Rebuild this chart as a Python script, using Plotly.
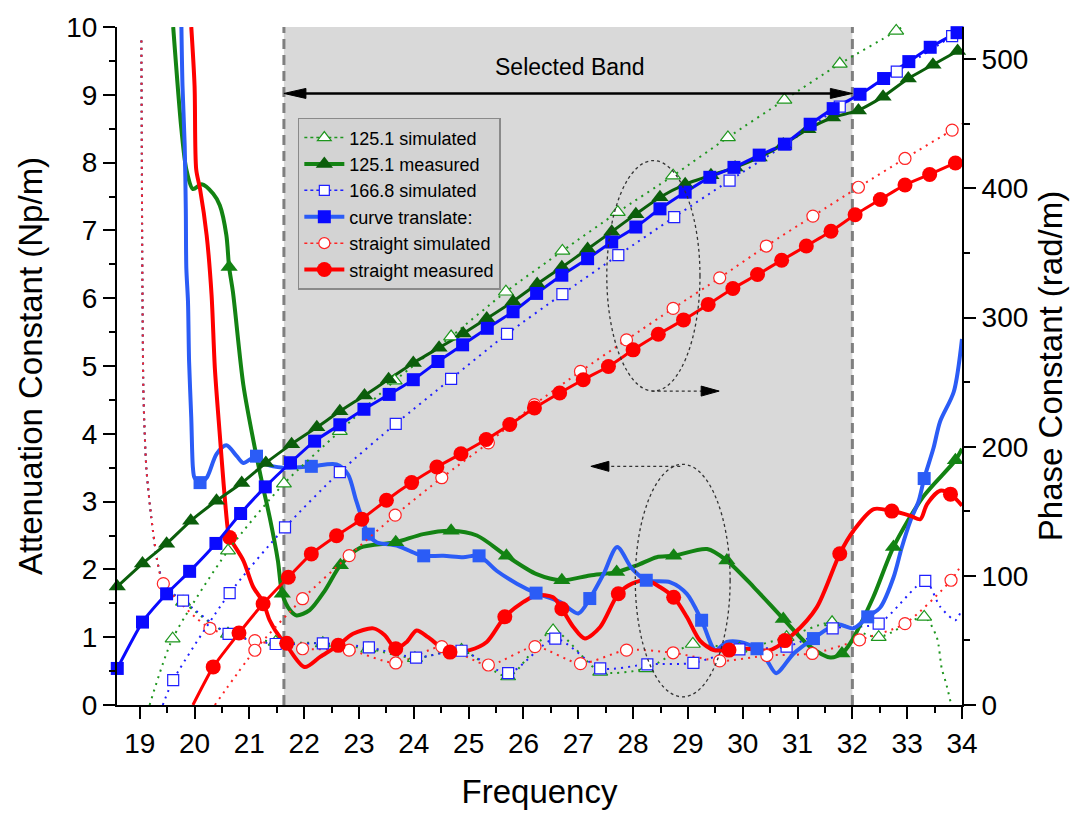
import plotly.graph_objects as go

FONT = "Liberation Sans, Arial, sans-serif"

# ---------------- colours ----------------
GREEN = "#138313"
GREEN_DARK = "#0b5e0b"
GREEN_SIM = "#1e961e"
BLUE = "#2b5cf6"
BLUE_DARK = "#0a0aff"
BLUE_SIM = "#1f1fff"
RED = "#ff0000"
RED_SIM = "#ff2424"

# ======================================================================
# Attenuation constant (Np/m), left axis
# ======================================================================

# 125.1 simulated
g_sim_att_head_f = [19.03, 19.05, 19.07, 19.12, 19.21, 19.33, 19.47]
g_sim_att_head = [9.8, 6.0, 4.5, 3.5, 2.77, 2.08, 1.72]
g_sim_att_f = [19.79, 20.61, 21.48, 22.34, 23.17, 24.02, 24.87, 25.72, 26.54,
               27.40, 28.24, 29.09, 29.94, 30.80, 31.63, 32.48, 33.31]
g_sim_att = [1.52, 1.05, 0.93, 0.91, 0.83, 0.69, 0.81, 0.42, 1.10,
             0.49, 0.54, 0.90, 0.83, 1.00, 1.22, 1.00, 1.30]
g_sim_att_tail_f = [33.54, 33.63, 33.71, 33.79]
g_sim_att_tail = [1.00, 0.54, 0.32, 0.05]

# 125.1 measured
g_meas_att_f = [19.61, 19.76, 19.85, 19.97, 20.13, 20.34, 20.46, 20.58, 20.63, 20.70,
                20.89, 21.10, 21.25, 21.37, 21.52, 21.60, 21.74, 21.86, 22.10, 22.38,
                22.66, 23.02, 23.67, 24.17, 24.68, 25.15, 25.69, 26.24, 26.70, 27.21,
                27.70, 28.07, 28.43, 28.74, 29.35, 29.71, 30.20, 30.74, 31.23, 31.60,
                31.81, 31.96, 32.38, 32.75, 33.29, 33.88, 34.0]
g_meas_att = [10.0, 8.49, 7.90, 7.61, 7.68, 7.54, 7.37, 6.93, 6.46, 6.09,
              4.72, 3.79, 3.21, 2.77, 2.13, 1.64, 1.40, 1.32, 1.40, 1.69,
              2.06, 2.32, 2.40, 2.52, 2.57, 2.50, 2.20, 1.93, 1.84, 1.91,
              1.96, 2.06, 2.18, 2.20, 2.30, 2.13, 1.74, 1.27, 0.86, 0.70,
              0.76, 0.91, 1.59, 2.33, 3.07, 3.61, 3.78]
g_meas_att_mf = [20.63, 21.60, 22.66, 23.67, 24.68, 25.69, 26.70, 27.70, 28.74, 29.71,
                 30.74, 31.81, 32.75, 33.88]
g_meas_att_m = [6.46, 1.64, 2.06, 2.40, 2.57, 2.20, 1.84, 1.96, 2.20, 2.13,
                1.27, 0.76, 2.33, 3.61]

# 166.8 simulated
b_sim_att_head_f = [19.03, 19.05, 19.07, 19.12, 19.21, 19.33, 19.47]
b_sim_att_head = [9.8, 6.0, 4.5, 3.5, 2.77, 2.08, 1.74]
b_sim_att_f = [19.79, 20.62, 21.48, 22.34, 23.18, 24.04, 24.87, 25.72, 26.58,
               27.40, 28.26, 29.10, 29.94, 30.80, 31.64, 32.48, 33.33]
b_sim_att = [1.54, 1.05, 0.90, 0.91, 0.85, 0.70, 0.80, 0.47, 0.98,
             0.54, 0.60, 0.62, 0.82, 0.86, 1.13, 1.20, 1.83]
b_sim_att_tail_f = [33.6, 33.88, 34.0]
b_sim_att_tail = [1.45, 1.25, 1.42]

# curve translate (measured)
b_meas_att_f = [19.76, 19.78, 19.82, 19.84, 19.85, 19.88, 19.90, 19.94, 19.97, 20.00,
                20.10, 20.22, 20.40, 20.58, 20.77, 20.89, 21.13, 21.31, 21.62, 22.13,
                22.59, 22.80, 22.95, 23.17, 23.32, 23.69, 24.05, 24.18, 24.54, 24.90,
                25.19, 25.51, 25.88, 26.23, 26.67, 27.00, 27.21, 27.46, 27.71, 27.98,
                28.24, 28.68, 28.98, 29.25, 29.50, 29.71, 29.95, 30.26, 30.44, 30.61,
                30.93, 31.29, 31.72, 32.02, 32.28, 32.51, 32.75, 32.90, 33.06, 33.21,
                33.31, 33.48, 33.60, 33.85, 34.0]
b_meas_att = [10.0, 9.13, 8.25, 7.32, 6.44, 5.95, 5.07, 4.23, 3.50, 3.35,
              3.28, 3.35, 3.70, 3.83, 3.67, 3.57, 3.67, 3.55, 3.50, 3.52,
              3.55, 3.40, 3.01, 2.52, 2.40, 2.35, 2.23, 2.20, 2.20, 2.18,
              2.20, 1.98, 1.79, 1.65, 1.52, 1.35, 1.57, 1.93, 2.33, 2.01,
              1.84, 1.81, 1.64, 1.25, 0.81, 0.93, 0.93, 0.83, 0.66, 0.47,
              0.76, 0.98, 1.19, 1.13, 1.30, 1.44, 1.88, 2.32, 2.72, 3.01,
              3.34, 3.79, 4.18, 4.62, 5.40]
b_meas_att_mf = [20.10, 21.13, 22.13, 23.17, 24.18, 25.19, 26.23, 27.21, 28.24, 29.25,
                 30.26, 31.29, 32.28, 33.31]
b_meas_att_m = [3.28, 3.67, 3.52, 2.52, 2.20, 2.20, 1.65, 1.57, 1.84, 1.25,
                0.83, 0.98, 1.30, 3.34]

# straight simulated
r_sim_att_head_f = [19.03, 19.05, 19.07, 19.12, 19.21, 19.33]
r_sim_att_head = [9.8, 6.0, 4.5, 3.5, 2.77, 2.08]
r_sim_att_f = [19.43, 20.28, 21.10, 21.97, 22.82, 23.67, 24.51, 25.36, 26.21,
               27.04, 27.88, 28.73, 29.58, 30.44, 31.27, 32.13, 32.96, 33.80]
r_sim_att = [1.79, 1.13, 0.95, 0.83, 0.81, 0.62, 0.86, 0.59, 0.86,
             0.61, 0.81, 0.77, 0.65, 0.73, 0.76, 0.96, 1.20, 1.84]
r_sim_att_tail_f = [34.0]
r_sim_att_tail = [2.08]

# straight measured
r_meas_att_f = [19.94, 20.00, 20.03, 20.10, 20.22, 20.31, 20.37, 20.46, 20.53, 20.61,
                20.64, 20.89, 21.07, 21.25, 21.37, 21.56, 21.68, 21.74, 22.01, 22.29,
                22.62, 22.89, 23.26, 23.47, 23.67, 23.87, 24.05, 24.26, 24.48, 24.66,
                25.02, 25.33, 25.66, 26.00, 26.24, 26.54, 26.70, 26.91, 27.12, 27.40,
                27.73, 27.98, 28.25, 28.49, 28.74, 28.98, 29.22, 29.47, 29.71, 30.07,
                30.50, 30.93, 31.35, 31.77, 32.02, 32.39, 32.72, 33.06, 33.24, 33.36,
                33.60, 33.79, 34.0]
r_meas_att = [10.0, 9.13, 7.90, 7.61, 6.93, 6.05, 4.97, 3.99, 3.26, 2.57,
              2.47, 2.13, 1.74, 1.52, 1.25, 1.00, 0.91, 0.81, 0.56, 0.71,
              0.88, 1.05, 1.13, 1.03, 0.83, 0.93, 1.10, 1.00, 0.86, 0.78,
              0.81, 0.93, 1.30, 1.52, 1.62, 1.59, 1.42, 1.15, 0.98, 1.15,
              1.64, 1.79, 1.84, 1.74, 1.59, 1.30, 0.95, 0.81, 0.81, 0.83,
              0.81, 1.05, 1.44, 2.23, 2.57, 2.89, 2.86, 2.79, 2.74, 2.96,
              3.16, 3.11, 2.94]
r_meas_att_mf = [20.64, 21.68, 22.62, 23.67, 24.66, 25.66, 26.70, 27.73, 28.74, 29.75,
                 30.77, 31.77, 32.72, 33.79]
r_meas_att_m = [2.47, 0.91, 0.88, 0.83, 0.78, 1.30, 1.42, 1.64, 1.59, 0.81,
                0.95, 2.23, 2.86, 3.11]

# ======================================================================
# Phase constant (rad/m), right axis
# ======================================================================

# 125.1 simulated
g_sim_ph_head_f = [19.18]
g_sim_ph_head = [0.0]
g_sim_ph_f = [19.60, 20.61, 21.63, 22.65, 23.65, 24.68, 25.68, 26.71, 27.72,
              28.73, 29.73, 30.76, 31.77, 32.80]
g_sim_ph = [51.4, 119.5, 171.4, 212.0, 251.1, 285.3, 320.0, 351.6, 381.6,
            409.9, 439.5, 468.5, 496.5, 522.0]
g_sim_ph_tail_f = [33.5]
g_sim_ph_tail = [543.0]

# 125.1 measured
g_meas_ph_f = [18.59, 19.05, 19.49, 19.93, 20.40, 20.86, 21.30, 21.77, 22.23, 22.65,
               23.10, 23.54, 23.99, 24.46, 24.90, 25.33, 25.81, 26.25, 26.70, 27.17,
               27.61, 28.05, 28.49, 28.95, 29.42, 29.86, 30.30, 30.74, 31.19, 31.64,
               32.11, 32.56, 33.02, 33.47, 33.92]
g_meas_ph = [91.7, 109.5, 124.9, 142.6, 158.1, 171.9, 187.4, 202.0, 215.0, 227.4,
             239.7, 252.2, 264.9, 276.6, 287.6, 299.2, 312.5, 326.0, 339.0, 353.1,
             366.5, 380.1, 393.2, 403.2, 410.2, 416.3, 424.0, 434.1, 445.9, 454.9,
             460.4, 471.0, 485.1, 495.8, 506.4]

# 166.8 simulated
b_sim_ph_head_f = [19.42]
b_sim_ph_head = [0.0]
b_sim_ph_f = [19.61, 20.64, 21.65, 22.65, 23.67, 24.68, 25.70, 26.71, 27.73,
              28.75, 29.76, 30.79, 31.77, 32.81, 33.82]
b_sim_ph = [19.3, 86.6, 137.5, 180.4, 217.7, 252.6, 287.3, 318.2, 348.3,
            377.8, 406.1, 434.3, 463.4, 490.4, 518.0]
b_sim_ph_tail_f = [34.0]
b_sim_ph_tail = [523.0]

# curve translate (measured)
b_meas_ph_f = [18.59, 19.05, 19.49, 19.91, 20.39, 20.84, 21.29, 21.75, 22.19, 22.65,
               23.09, 23.55, 23.99, 24.44, 24.89, 25.34, 25.81, 26.24, 26.70, 27.17,
               27.61, 28.05, 28.49, 28.95, 29.40, 29.84, 30.30, 30.76, 31.23, 31.65,
               32.14, 32.57, 33.03, 33.42, 33.91]
b_meas_ph = [28.3, 64.2, 86.1, 103.5, 125.1, 148.3, 168.9, 187.6, 204.3, 217.0,
             229.0, 240.5, 251.9, 266.0, 278.9, 291.7, 304.5, 318.7, 332.8, 345.6,
             358.5, 370.1, 384.2, 397.1, 408.6, 416.3, 425.8, 434.3, 449.7, 461.8,
             472.9, 485.1, 498.2, 509.3, 520.6]

# straight simulated
r_sim_ph_head_f = [20.37]
r_sim_ph_head = [0.0]
r_sim_ph_f = [21.10, 21.97, 22.82, 23.66, 24.51, 25.36, 26.20, 27.04, 27.88,
              28.73, 29.58, 30.43, 31.28, 32.11, 32.96, 33.82]
r_sim_ph = [42.4, 82.3, 115.7, 147.0, 176.0, 203.0, 232.6, 258.3, 282.7,
            307.1, 330.8, 355.4, 378.6, 400.9, 423.2, 445.2]
r_sim_ph_tail_f = [34.0]
r_sim_ph_tail = [450.0]

# straight measured
r_meas_ph_head_f = [19.97]
r_meas_ph_head = [0.0]
r_meas_ph_f = [20.34, 20.81, 21.25, 21.71, 22.13, 22.59, 23.05, 23.50, 23.96, 24.42,
               24.86, 25.32, 25.75, 26.20, 26.66, 27.09, 27.55, 28.00, 28.46, 28.92,
               29.37, 29.82, 30.27, 30.71, 31.16, 31.61, 32.05, 32.51, 32.96, 33.41,
               33.88]
r_meas_ph = [29.5, 55.7, 78.4, 98.9, 117.0, 131.1, 143.9, 158.6, 172.2, 184.3,
             194.5, 205.6, 217.2, 230.0, 241.6, 251.9, 262.1, 275.0, 287.1, 298.2,
             310.2, 322.5, 333.3, 344.4, 355.4, 366.8, 379.6, 391.4, 402.7, 410.8,
             419.7]

# legend labels
legend_names = ["125.1 simulated", "125.1 measured", "166.8 simulated",
                "curve translate:", "straight simulated", "straight measured"]

# selected band and annotation geometry (frequency / Np/m)
band_lo, band_hi = 21.63, 32.0
band_arrow_y = 9.02

fig = go.Figure()


def add_line(x, y, axis, color, width, dash="solid", smooth=0.8):
    fig.add_trace(go.Scatter(
        x=x, y=y, yaxis=axis, mode="lines", showlegend=False, hoverinfo="skip",
        line=dict(color=color, width=width, dash=dash, shape="spline", smoothing=smooth)))


def add_marks(x, y, axis, symbol, size, fill, edge, edge_w=1.2):
    fig.add_trace(go.Scatter(
        x=x, y=y, yaxis=axis, mode="markers", showlegend=False, hoverinfo="skip",
        cliponaxis=False,
        marker=dict(symbol=symbol, size=size, color=fill, line=dict(color=edge, width=edge_w))))


DOT = "2px,5px"

# ---- simulated curves (dotted, open markers) ----
for hf, hv, mf, mv, tf, tv, col in [
    (g_sim_att_head_f, g_sim_att_head, g_sim_att_f, g_sim_att, g_sim_att_tail_f, g_sim_att_tail, GREEN_SIM),
    (b_sim_att_head_f, b_sim_att_head, b_sim_att_f, b_sim_att, b_sim_att_tail_f, b_sim_att_tail, BLUE_SIM),
    (r_sim_att_head_f, r_sim_att_head, r_sim_att_f, r_sim_att, r_sim_att_tail_f, r_sim_att_tail, RED_SIM),
]:
    add_line(hf + mf + tf, hv + mv + tv, "y", col, 2, DOT, 0.7)

for hf, hv, mf, mv, tf, tv, col in [
    (g_sim_ph_head_f, g_sim_ph_head, g_sim_ph_f, g_sim_ph, g_sim_ph_tail_f, g_sim_ph_tail, GREEN_SIM),
    (b_sim_ph_head_f, b_sim_ph_head, b_sim_ph_f, b_sim_ph, b_sim_ph_tail_f, b_sim_ph_tail, BLUE_SIM),
    (r_sim_ph_head_f, r_sim_ph_head, r_sim_ph_f, r_sim_ph, r_sim_ph_tail_f, r_sim_ph_tail, RED_SIM),
]:
    add_line(hf + mf + tf, hv + mv + tv, "y2", col, 2, DOT, 0.7)

# ---- measured curves (solid) ----
add_line(g_meas_att_f, g_meas_att, "y", GREEN, 4)
add_line(b_meas_att_f, b_meas_att, "y", BLUE, 4)
add_line(r_meas_att_f, r_meas_att, "y", RED, 4)
add_line(g_meas_ph_f, g_meas_ph, "y2", GREEN_DARK, 3, smooth=0.5)
add_line(b_meas_ph_f, b_meas_ph, "y2", BLUE_DARK, 3, smooth=0.5)
add_line(r_meas_ph_head_f + r_meas_ph_f, r_meas_ph_head + r_meas_ph, "y2", RED, 3, smooth=0.5)

# ---- open markers of simulated curves ----
add_marks(g_sim_att_f, g_sim_att, "y", "triangle-up", 13, "white", GREEN_SIM)
add_marks(b_sim_att_f, b_sim_att, "y", "square", 11, "white", BLUE_SIM)
add_marks(r_sim_att_f, r_sim_att, "y", "circle", 12, "white", RED_SIM)
add_marks(g_sim_ph_f, g_sim_ph, "y2", "triangle-up", 13, "white", GREEN_SIM)
add_marks(b_sim_ph_f, b_sim_ph, "y2", "square", 11, "white", BLUE_SIM)
add_marks(r_sim_ph_f, r_sim_ph, "y2", "circle", 12, "white", RED_SIM)

# ---- filled markers of measured curves ----
add_marks(g_meas_att_mf, g_meas_att_m, "y", "triangle-up", 15, GREEN, GREEN, 0)
add_marks(b_meas_att_mf, b_meas_att_m, "y", "square", 13, BLUE, BLUE, 0)
add_marks(r_meas_att_mf, r_meas_att_m, "y", "circle", 15, RED, RED, 0)
add_marks(g_meas_ph_f, g_meas_ph, "y2", "triangle-up", 15, GREEN_DARK, GREEN_DARK, 0)
add_marks(b_meas_ph_f, b_meas_ph, "y2", "square", 13, BLUE_DARK, BLUE_DARK, 0)
add_marks(r_meas_ph_f, r_meas_ph, "y2", "circle", 15, RED, RED, 0)

# ---- legend entries ----
legend_styles = [
    (GREEN_SIM, 1.5, "dot", "triangle-up", 12, "white", GREEN_SIM, 1.2),
    (GREEN, 4, "solid", "triangle-up", 15, GREEN_DARK, GREEN_DARK, 0),
    (BLUE_SIM, 1.5, "dot", "square", 10, "white", BLUE_SIM, 1.2),
    (BLUE, 4, "solid", "square", 13, BLUE_DARK, BLUE_DARK, 0),
    (RED_SIM, 1.5, "dot", "circle", 11, "white", RED_SIM, 1.2),
    (RED, 4, "solid", "circle", 15, RED, RED, 0),
]
for name, (lc, lw, ld, sym, sz, fc, ec, ew) in zip(legend_names, legend_styles):
    fig.add_trace(go.Scatter(
        x=[None], y=[None], mode="lines+markers", name=name,
        line=dict(color=lc, width=lw, dash=ld),
        marker=dict(symbol=sym, size=sz, color=fc, line=dict(color=ec, width=ew))))

# ---- shapes: band, band edges, arrows, ellipses ----
shapes = [
    dict(type="rect", xref="x", yref="paper", x0=band_lo, x1=band_hi, y0=0, y1=1,
         fillcolor="#d9d9d9", line=dict(width=0), layer="below"),
    dict(type="line", xref="x", yref="paper", x0=band_lo, x1=band_lo, y0=0, y1=1,
         line=dict(color="#7f7f7f", width=3, dash="10px,6px"), layer="below"),
    dict(type="line", xref="x", yref="paper", x0=band_hi, x1=band_hi, y0=0, y1=1,
         line=dict(color="#7f7f7f", width=3, dash="10px,6px"), layer="below"),
    # Selected Band double arrow
    dict(type="line", xref="x", yref="y", x0=band_lo + 0.2, x1=band_hi - 0.2,
         y0=band_arrow_y, y1=band_arrow_y, line=dict(color="black", width=2.5)),
    dict(type="path", xref="x", yref="y", xsizemode="pixel", ysizemode="pixel",
         xanchor=band_lo, yanchor=band_arrow_y, path="M0,0 L22,5 L22,-5 Z",
         fillcolor="black", line=dict(color="black", width=1)),
    dict(type="path", xref="x", yref="y", xsizemode="pixel", ysizemode="pixel",
         xanchor=band_hi, yanchor=band_arrow_y, path="M0,0 L-22,5 L-22,-5 Z",
         fillcolor="black", line=dict(color="black", width=1)),
    # phase ellipse and arrow to the right axis
    dict(type="circle", xref="x", yref="y", x0=27.52, x1=29.22, y0=4.63, y1=8.03,
         line=dict(color="#333333", width=1.3, dash="dot")),
    dict(type="line", xref="x", yref="y", x0=28.34, x1=29.40, y0=4.63, y1=4.63,
         line=dict(color="#333333", width=1.3, dash="dot")),
    dict(type="path", xref="x", yref="y", xsizemode="pixel", ysizemode="pixel",
         xanchor=29.57, yanchor=4.63, path="M0,0 L-18,5 L-18,-5 Z",
         fillcolor="black", line=dict(color="black", width=1)),
    # attenuation ellipse and arrow to the left axis
    dict(type="circle", xref="x", yref="y", x0=28.04, x1=29.77, y0=0.12, y1=3.55,
         line=dict(color="#333333", width=1.3, dash="dot")),
    dict(type="line", xref="x", yref="y", x0=28.86, x1=27.40, y0=3.52, y1=3.52,
         line=dict(color="#333333", width=1.3, dash="dot")),
    dict(type="path", xref="x", yref="y", xsizemode="pixel", ysizemode="pixel",
         xanchor=27.23, yanchor=3.52, path="M0,0 L18,5 L18,-5 Z",
         fillcolor="black", line=dict(color="black", width=1)),
]

tickfont = dict(family=FONT, size=28, color="black")
titlefont = dict(family=FONT, size=33, color="black")

fig.update_layout(
    width=1085, height=817,
    margin=dict(l=117, r=123, t=24, b=112),
    paper_bgcolor="white", plot_bgcolor="white",
    font=dict(family=FONT, color="black"),
    shapes=shapes,
    annotations=[dict(x=(band_lo + band_hi) / 2 + 0.03, y=9.41, xref="x", yref="y",
                      text="Selected Band", showarrow=False,
                      font=dict(family=FONT, size=23, color="black"))],
    legend=dict(x=0.214, y=0.866, xanchor="left", yanchor="top",
                bgcolor="#d3d3d3", bordercolor="#8a8a8a", borderwidth=1.5,
                font=dict(family=FONT, size=18, color="black"),
                tracegroupgap=0, itemwidth=40),
    xaxis=dict(range=[18.585, 34.0], tickvals=list(range(19, 35)),
               ticks="outside", ticklen=12, tickwidth=2, tickcolor="black",
               minor=dict(dtick=0.5, ticks="outside", ticklen=6, tickwidth=2, tickcolor="black"),
               showline=True, linewidth=2, linecolor="black", showgrid=False, zeroline=False,
               tickfont=tickfont,
               title=dict(text="Frequency", font=titlefont, standoff=22)),
    xaxis2=dict(range=[18.585, 34.0], overlaying="x", side="top", anchor="y",
                tickvals=list(range(19, 35)), ticks="inside", ticklen=8, tickwidth=2,
                tickcolor="black", showticklabels=False,
                minor=dict(dtick=0.5, ticks="inside", ticklen=5, tickwidth=2, tickcolor="black"),
                showline=True, linewidth=2, linecolor="black", showgrid=False, zeroline=False),
    yaxis=dict(range=[0, 10], dtick=1, ticks="outside", ticklen=12, tickwidth=2,
               tickcolor="black",
               minor=dict(dtick=0.5, ticks="outside", ticklen=6, tickwidth=2, tickcolor="black"),
               showline=True, linewidth=2, linecolor="black", showgrid=False, zeroline=False,
               tickfont=tickfont,
               title=dict(text="Attenuation Constant (Np/m)", font=titlefont, standoff=14)),
    yaxis2=dict(range=[0, 525], overlaying="y", side="right", anchor="x",
                tickvals=[0, 100, 200, 300, 400, 500], ticks="outside", ticklen=12,
                tickwidth=2, tickcolor="black",
                minor=dict(dtick=50, ticks="outside", ticklen=6, tickwidth=2, tickcolor="black"),
                showline=True, linewidth=2, linecolor="black", showgrid=False, zeroline=False,
                tickfont=tickfont,
                title=dict(text="Phase Constant (rad/m)", font=titlefont, standoff=12)),
)

fig.write_html("out.html")
